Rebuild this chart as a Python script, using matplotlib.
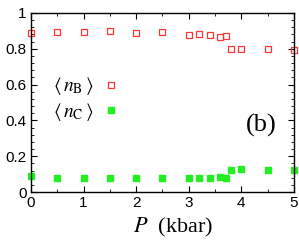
import matplotlib
matplotlib.use('Agg')
import matplotlib.pyplot as plt
from matplotlib.ticker import MultipleLocator

# pressure (kbar)
pressure = [0, 0.5, 1, 1.5, 2, 2.5, 3, 3.2, 3.4, 3.6, 3.7, 3.8, 4, 4.5, 5]
n_b = [0.888, 0.894, 0.894, 0.897, 0.888, 0.894, 0.875, 0.883, 0.879, 0.868,
       0.872, 0.800, 0.800, 0.797, 0.793]
n_c = [0.089, 0.080, 0.080, 0.076, 0.080, 0.076, 0.076, 0.076, 0.080, 0.084,
       0.080, 0.123, 0.128, 0.123, 0.123]

plt.rcParams['mathtext.fontset'] = 'stix'

fig = plt.figure(figsize=(2.99, 2.45), dpi=100)
ax = fig.add_axes([0.1037, 0.2163, 0.8793, 0.7307])

ax.plot(pressure, n_b, ls='none', marker='s', ms=4.6, mfc='none',
        mec='#ff3333', mew=0.9, label=r'$\langle\,n_{\rm B}\,\rangle$', clip_on=False)
ax.plot(pressure, n_c, ls='none', marker='s', ms=4.6, color='#22ee22',
        mec='#22ee22', label=r'$\langle\,n_{\rm C}\,\rangle$', clip_on=False)

ax.set_xlim(0, 5)
ax.set_ylim(0, 1)
ax.xaxis.set_major_locator(MultipleLocator(1))
ax.xaxis.set_minor_locator(MultipleLocator(0.5))
ax.yaxis.set_minor_locator(MultipleLocator(0.04))
ax.set_yticks([0, 0.2, 0.4, 0.6, 0.8, 1])
ax.set_yticklabels(['0', '0.2', '0.4', '0.6', '0.8', '1'])
ax.tick_params(which='both', direction='in', top=True, right=True,
               labelsize=11, pad=3)
ax.tick_params(which='major', length=4, width=0.8)
ax.tick_params(which='minor', length=2, width=0.6)
for lab in ax.get_xticklabels() + ax.get_yticklabels():
    lab.set_fontfamily('Liberation Sans')
for s in ax.spines.values():
    s.set_linewidth(1.0)

ax.set_xlabel(r'$P$  (kbar)', fontsize=16, family='Liberation Serif')
ax.xaxis.set_label_coords(0.54, -0.135)

leg = ax.legend(loc='upper left', bbox_to_anchor=(0.055, 0.695), frameon=False,
                markerfirst=False, fontsize=14, handlelength=0.8,
                handletextpad=0.5, labelspacing=0.2, borderaxespad=0)

ax.text(0.935, 0.37, '(b)', transform=ax.transAxes, ha='right', va='center',
        fontsize=19, family='Liberation Serif')

fig.savefig('out.png', dpi=100)
